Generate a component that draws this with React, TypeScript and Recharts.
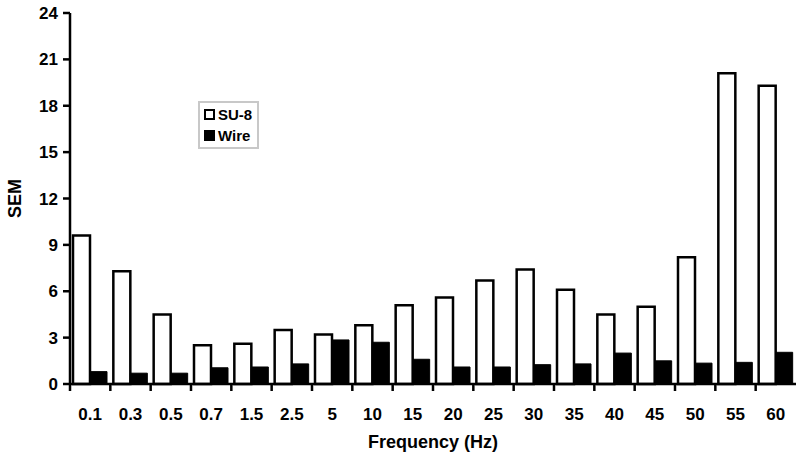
import React from 'react';
import { BarChart, Bar, XAxis, YAxis, Legend, Label } from 'recharts';

const frequencies = ['0.1', '0.3', '0.5', '0.7', '1.5', '2.5', '5', '10', '15', '20', '25', '30', '35', '40', '45', '50', '55', '60'];
const su8Values = [9.6, 7.3, 4.5, 2.5, 2.6, 3.5, 3.2, 3.8, 5.1, 5.6, 6.7, 7.4, 6.1, 4.5, 5.0, 8.2, 20.1, 19.3];
const wireValues = [0.8, 0.7, 0.7, 1.05, 1.1, 1.3, 2.85, 2.7, 1.6, 1.1, 1.1, 1.25, 1.3, 2.0, 1.5, 1.35, 1.4, 2.05];
const yTicks = [0, 3, 6, 9, 12, 15, 18, 21, 24];

const data = frequencies.map((freq, i) => ({ freq, su8: su8Values[i], wire: wireValues[i] }));

const FONT = '"Liberation Sans", Arial, sans-serif';

// category ticks: label in the middle, tick mark on the left edge of each band
const FreqTick = (props: any) => {
  const { x, y, payload } = props;
  const half = payload.offset ?? 0;
  return (
    <g>
      <line x1={x - half} x2={x - half} y1={y} y2={y + 7} stroke="#000" strokeWidth={2.5} />
      <text x={x} y={y + 36} textAnchor="middle" fill="#000" fontSize={17} fontWeight="bold" fontFamily={FONT}>
        {payload.value}
      </text>
    </g>
  );
};

const LegendBox = (props: any) => (
  <div
    style={{
      border: '2px solid #c8c8c8',
      background: '#fff',
      padding: '1px 5px 1px 4px',
      fontFamily: FONT,
      fontWeight: 'bold',
      fontSize: 15,
      lineHeight: '21px',
      color: '#000',
    }}
  >
    {(props.payload || []).map((entry: any) => (
      <div key={entry.value} style={{ display: 'flex', alignItems: 'center' }}>
        <span
          style={{
            display: 'inline-block',
            boxSizing: 'border-box',
            width: 11,
            height: 11,
            border: '2px solid #000',
            background: entry.color,
            marginRight: 3,
          }}
        />
        {entry.value}
      </div>
    ))}
  </div>
);

const SemLabel = (props: any) => {
  const vb = props.viewBox;
  const cx = vb.x + 15;
  const cy = vb.y + vb.height / 2;
  return (
    <text
      x={cx}
      y={cy}
      transform={`rotate(-90, ${cx}, ${cy})`}
      textAnchor="middle"
      dominantBaseline="central"
      fill="#000"
      fontSize={18}
      fontWeight="bold"
      fontFamily={FONT}
    >
      SEM
    </text>
  );
};

export default function App() {
  return (
    <div style={{ position: 'absolute', left: 0, top: 0 }}>
      <BarChart
        width={800}
        height={460}
        data={data}
        margin={{ top: 13, right: 4, left: 0, bottom: 0 }}
        barGap={0}
      >
        <XAxis
          dataKey="freq"
          height={76}
          tick={<FreqTick />}
          tickLine={false}
          tickSize={0}
          tickMargin={0}
          interval={0}
          axisLine={{ stroke: '#000', strokeWidth: 2.5 }}
        >
          <Label
            value="Frequency (Hz)"
            position="insideBottom"
            offset={12}
            fill="#000"
            fontSize={18}
            fontWeight="bold"
            fontFamily={FONT}
          />
        </XAxis>
        <YAxis
          width={70}
          domain={[0, 24]}
          ticks={yTicks}
          interval={0}
          tickSize={7}
          tickMargin={5}
          axisLine={{ stroke: '#000', strokeWidth: 2.5 }}
          tickLine={{ stroke: '#000', strokeWidth: 2.5 }}
          tick={{ fill: '#000', fontSize: 17, fontWeight: 'bold', fontFamily: FONT }}
        >
          <Label content={<SemLabel />} />
        </YAxis>
        <Legend
          layout="vertical"
          align="center"
          verticalAlign="middle"
          content={<LegendBox />}
          wrapperStyle={{ left: 198, top: 101, width: 'auto' }}
        />
        <Bar dataKey="su8" name="SU-8" fill="#fff" stroke="#000" strokeWidth={2.5} barSize={17} isAnimationActive={false} />
        <Bar dataKey="wire" name="Wire" fill="#000" stroke="#000" strokeWidth={1} barSize={17} isAnimationActive={false} />
      </BarChart>
    </div>
  );
}
